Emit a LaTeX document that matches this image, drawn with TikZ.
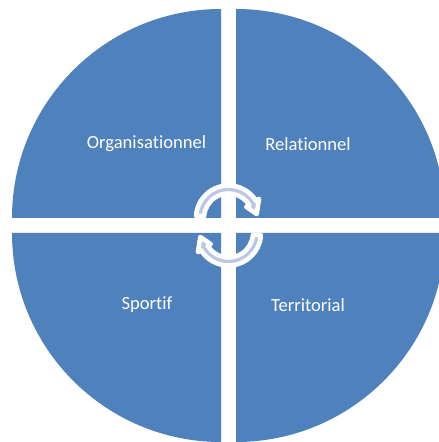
\documentclass[tikz,border=0pt]{standalone}
\usepackage{fontspec}
\setmainfont[Ligatures=NoCommon]{Carlito}
\definecolor{quadblue}{HTML}{4F81BD}
\definecolor{arrowfill}{HTML}{BCC8E2}
\begin{document}
\begin{tikzpicture}[x=1pt,y=1pt,
  quad/.style={fill=quadblue,draw=none},
  lbl/.style={text=white,font=\fontsize{18.6}{20}\selectfont,inner sep=0pt},
  cyc/.style={fill=arrowfill,draw=white,line width=4.6pt,line join=round}]
\useasboundingbox (0,0) rectangle (439,442);
\fill[white] (0,0) rectangle (439,442);
\begin{scope}
\clip (0,0) rectangle (439,442);
\path[quad] (221,224) -- (12,224) arc[start angle=180,end angle=90,radius=209pt] -- cycle;
\path[quad] (236,224) -- (236,433) arc[start angle=90,end angle=0,radius=209pt] -- cycle;
\path[quad] (221,209) -- (221,0) arc[start angle=270,end angle=180,radius=209pt] -- cycle;
\path[quad] (236,209) -- (445,209) arc[start angle=0,end angle=-90,radius=209pt] -- cycle;
\end{scope}
\node[lbl] (org) at (146.5,298) {Organisationnel};
\node[lbl] (rel) at (308,298) {Relationnel};
\node[lbl] (spo) at (147,137) {Sportif};
\node[lbl] (ter) at (308,137) {Territorial};
\begin{scope}[shift={(228.5,224)}]
\path[cyc] (176:32.5pt) arc[start angle=176,end angle=32,radius=32.5pt] -- (32:36pt) -- (8:28.5pt) -- (32:21pt) -- (32:24.5pt) arc[start angle=32,end angle=176,radius=24.5pt] -- cycle;
\end{scope}
\begin{scope}[shift={(228.5,209)},rotate=180]
\path[cyc] (176:32.5pt) arc[start angle=176,end angle=32,radius=32.5pt] -- (32:36pt) -- (8:28.5pt) -- (32:21pt) -- (32:24.5pt) arc[start angle=32,end angle=176,radius=24.5pt] -- cycle;
\end{scope}
\end{tikzpicture}
\end{document}
